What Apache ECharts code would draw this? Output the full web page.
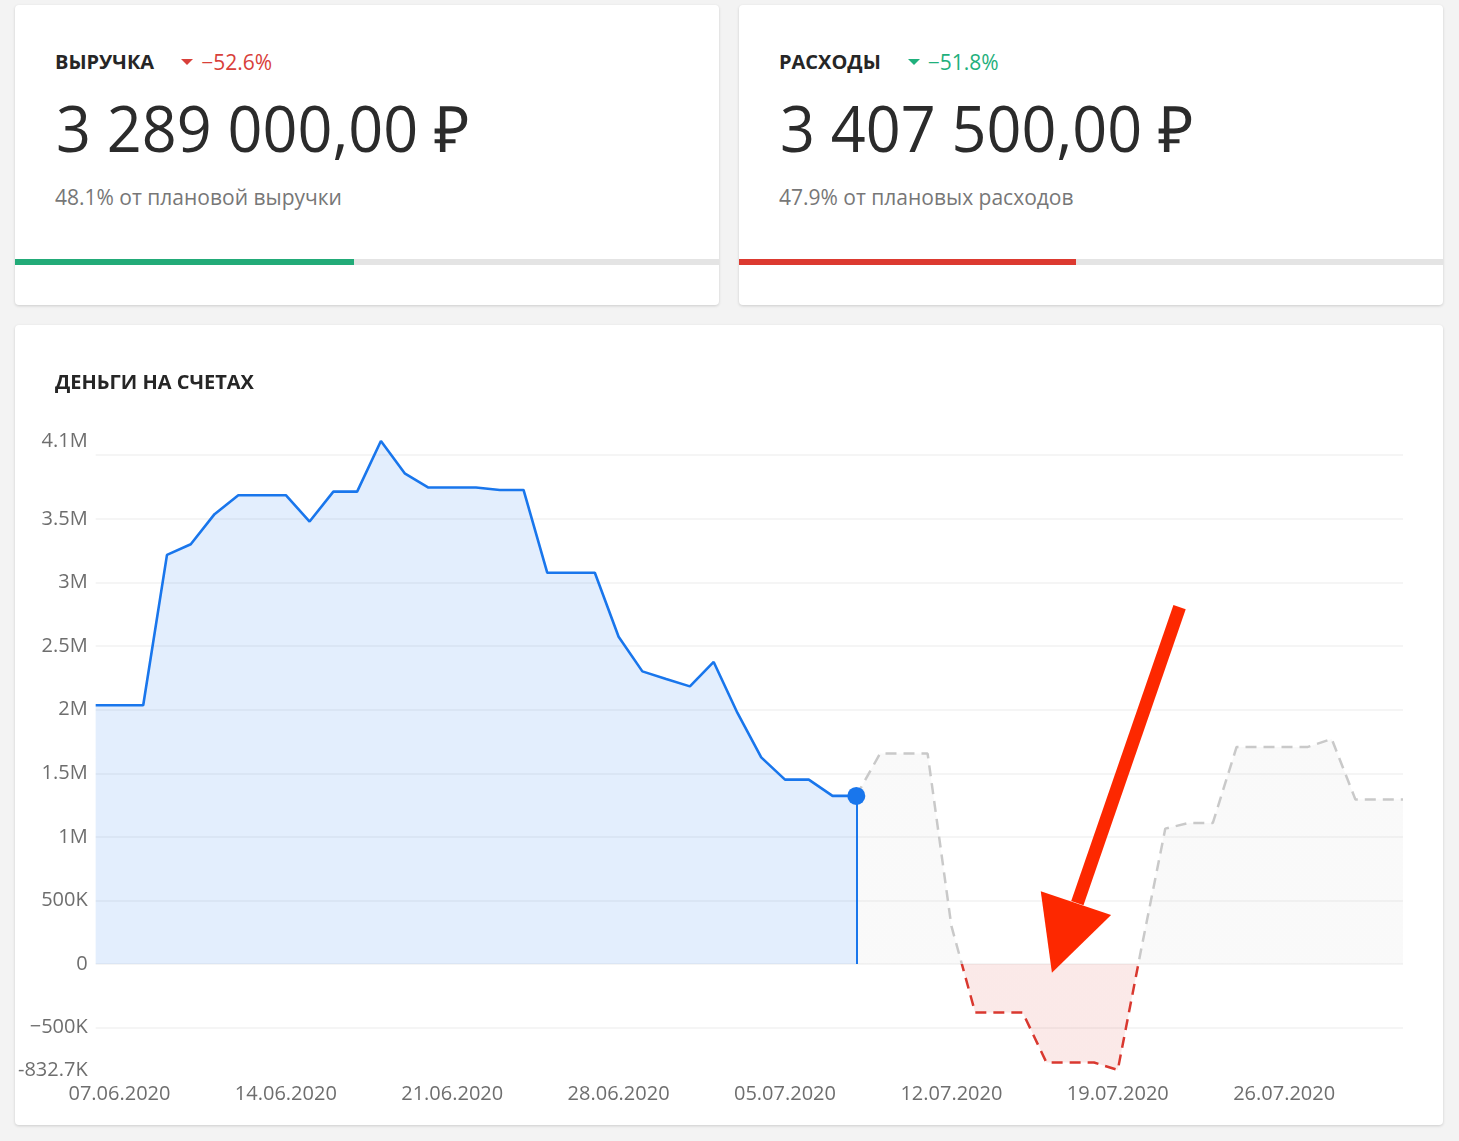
<!DOCTYPE html>
<html>
<head>
<meta charset="utf-8">
<script src="https://cdn.jsdelivr.net/npm/echarts@6/dist/echarts.min.js"></script>
<style>
  html, body { margin: 0; padding: 0; background: #f3f3f3; width: 1459px; height: 1141px; overflow: hidden; font-family: 'Open Sans', sans-serif; }
  .card { position: absolute; background: #fff; border-radius: 4px; box-shadow: 0 1px 3px rgba(0,0,0,0.16); overflow: hidden; }
  .hdr { position: absolute; left: 40px; top: 46px; height: 22px; display: flex; align-items: center; white-space: nowrap; }
  .lbl { font-weight: 700; font-size: 20px; color: #262626; line-height: 22px; }
  .tri { width: 0; height: 0; border-left: 6.5px solid transparent; border-right: 6.5px solid transparent; margin-left: 27px; margin-right: 8px; }
  .chg { font-size: 21px; line-height: 22px; }
  .big { position: absolute; left: 41px; top: 84px; font-size: 64px; line-height: 78px; color: #2b2b2b; white-space: nowrap; transform: scaleX(0.955); transform-origin: left center; }
  .sub { position: absolute; left: 40px; top: 178px; font-size: 21px; line-height: 28px; color: #777; white-space: nowrap; }
  .bar { position: absolute; left: 0; right: 0; top: 254px; height: 6px; background: #e4e4e4; }
  .bar div { height: 100%; }
  #chartCard { left: 15px; top: 325px; width: 1428px; height: 800px; }
  #chart { position: absolute; left: 0; top: 0; width: 1428px; height: 800px; }
</style>
</head>
<body>
<div id="cards"></div>
<div class="card" id="chartCard"><div id="chart"></div></div>
<script>
// ---- KPI cards data ----
const cardTitles = ['ВЫРУЧКА', 'РАСХОДЫ'];
const cardChanges = ['−52.6%', '−51.8%'];
const cardValues = ['3 289 000,00 ₽', '3 407 500,00 ₽'];
const cardPlanPct = [48.1, 47.9];
const cardNotes = ['48.1% от плановой выручки', '47.9% от плановых расходов'];
const cardChangeColors = ['#d8403a', '#1fb07c'];
const cardBarColors = ['#22ab78', '#dc3a30'];
const cardLefts = [15, 739];

// ---- chart data ----
const chartTitle = 'ДЕНЬГИ НА СЧЕТАХ';
const dates = [
  '06.06.2020','07.06.2020','08.06.2020','09.06.2020','10.06.2020','11.06.2020','12.06.2020',
  '13.06.2020','14.06.2020','15.06.2020','16.06.2020','17.06.2020','18.06.2020','19.06.2020',
  '20.06.2020','21.06.2020','22.06.2020','23.06.2020','24.06.2020','25.06.2020','26.06.2020',
  '27.06.2020','28.06.2020','29.06.2020','30.06.2020','01.07.2020','02.07.2020','03.07.2020',
  '04.07.2020','05.07.2020','06.07.2020','07.07.2020','08.07.2020','09.07.2020','10.07.2020',
  '11.07.2020','12.07.2020','13.07.2020','14.07.2020','15.07.2020','16.07.2020','17.07.2020',
  '18.07.2020','19.07.2020','20.07.2020','21.07.2020','22.07.2020','23.07.2020','24.07.2020',
  '25.07.2020','26.07.2020','27.07.2020','28.07.2020','29.07.2020','30.07.2020','31.07.2020'
];
// actual balance 06.06 – 08.07
const actual = [
  2035000, 2035000, 2035000, 3217000, 3300000, 3537000, 3686000, 3686000, 3686000, 3479000,
  3714000, 3714000, 4112000, 3858000, 3746000, 3746000, 3746000, 3727000, 3727000, 3076000,
  3076000, 3076000, 2573000, 2301000, 2241000, 2183000, 2375000, 1974000, 1625000, 1450000,
  1450000, 1322000, 1322000
];
// forecast balance 08.07 – 31.07
const forecast = [
  1322000, 1655000, 1655000, 1655000, 300000, -380000, -380000, -380000, -774000, -774000,
  -774000, -832700, 130000, 1065000, 1110000, 1110000, 1707000, 1707000, 1707000, 1707000,
  1770000, 1293000, 1293000, 1293000
];

// ---- build cards ----
const cardsEl = document.getElementById('cards');
cardTitles.forEach((t, i) => {
  const c = document.createElement('div');
  c.className = 'card';
  c.style.left = cardLefts[i] + 'px';
  c.style.top = '5px';
  c.style.width = '704px';
  c.style.height = '300px';
  c.innerHTML =
    '<div class="hdr"><span class="lbl">' + t + '</span>' +
    '<span class="tri" style="border-top:6.5px solid ' + cardChangeColors[i] + '"></span>' +
    '<span class="chg" style="color:' + cardChangeColors[i] + '">' + cardChanges[i] + '</span></div>' +
    '<div class="big">' + cardValues[i] + '</div>' +
    '<div class="sub">' + cardNotes[i] + '</div>' +
    '<div class="bar"><div style="width:' + cardPlanPct[i] + '%;background:' + cardBarColors[i] + '"></div></div>';
  cardsEl.appendChild(c);
});

// ---- chart ----
const allVals = actual.concat(forecast);
const yMin = Math.min.apply(null, allVals);
const yMax = Math.max.apply(null, allVals);
const step = 500000;
const lastIdx = actual.length - 1;
const forecastData = new Array(lastIdx).fill(null).concat(forecast);

function short(v) {
  const a = Math.abs(v);
  if (a >= 1e6) return (Math.round(a / 1e5) / 10) + 'M';
  if (a >= 1e3) return (Math.round(a / 1e2) / 10) + 'K';
  return String(a);
}
function yFmt(v) {
  const isExtent = (v === yMin || v === yMax);
  if (!isExtent && (Math.abs(v - yMax) < step * 0.3 || Math.abs(v - yMin) < step * 0.3)) return '';
  if (v === 0) return '0';
  const sign = v < 0 ? (isExtent ? '-' : '\u2212') : '';
  return sign + short(v);
}

const chart = echarts.init(document.getElementById('chart'), null, { renderer: 'canvas' });
const blue = '#1976ec';
chart.setOption({
  animation: false,
  title: {
    text: chartTitle, left: 35, top: 43,
    textStyle: { fontFamily: 'Open Sans', fontWeight: 'bold', fontSize: 20, color: '#262626' }
  },
  grid: { left: 80, right: 40, top: 116, bottom: 55 },
  xAxis: {
    type: 'category', data: dates, boundaryGap: false,
    axisLine: { show: false, onZero: false }, axisTick: { show: false },
    axisLabel: {
      interval: (i) => i % 7 === 1, margin: 14,
      fontFamily: 'Open Sans', fontSize: 20, color: '#6e6e6e'
    },
    splitLine: { show: false }
  },
  yAxis: {
    type: 'value', min: yMin, max: yMax, splitNumber: 10,
    minInterval: step, maxInterval: step,
    axisLine: { show: false }, axisTick: { show: false },
    axisLabel: { formatter: yFmt, margin: 8, fontFamily: 'Open Sans', fontSize: 20, color: '#6e6e6e' },
    splitLine: { show: true, showMinLine: false, showMaxLine: false, lineStyle: { color: '#f5f5f5', width: 2 } }
  },
  visualMap: {
    show: false, seriesIndex: 1, dimension: 1,
    pieces: [{ gte: -1e9, lt: 0, color: '#d9382f' }, { gte: 0, lte: 1e9, color: '#c9c9c9' }]
  },
  series: [
    {
      name: 'Факт', type: 'line', data: actual, symbol: 'none', z: 3,
      lineStyle: { color: blue, width: 2.6 },
      areaStyle: { color: blue, opacity: 0.12 },
      markLine: {
        silent: true, symbol: 'none', animation: false,
        label: { show: false },
        lineStyle: { color: blue, width: 2, type: 'solid' },
        data: [[{ coord: [dates[lastIdx], 0] }, { coord: [dates[lastIdx], actual[lastIdx]] }]]
      }
    },
    {
      name: 'Прогноз', type: 'line', data: forecastData, symbol: 'none', z: 2,
      lineStyle: { width: 2.5, type: [11, 7] },
      areaStyle: { opacity: 0.11 }
    },
    {
      name: 'Сегодня', type: 'scatter', z: 5,
      data: [[dates[lastIdx], actual[lastIdx]]],
      symbol: 'circle', symbolSize: 18, itemStyle: { color: blue, opacity: 1 }
    }
  ]
});

// ---- arrow annotation, anchored to data space ----
const p0 = chart.convertToPixel({ gridIndex: 0 }, [0, 0]);
const p1 = chart.convertToPixel({ gridIndex: 0 }, [dates.length - 1, 1000000]);
function px(idx, valM) {
  return [p0[0] + (p1[0] - p0[0]) * idx / (dates.length - 1), p0[1] + (p1[1] - p0[1]) * valM];
}
const tail = px(45.6, 2.807);
const base = px(41.3, 0.48);
const headL = px(39.76, 0.573);
const headR = px(42.72, 0.385);
const tip = px(40.23, -0.068);
const arrowColor = '#fd2800';
chart.setOption({
  graphic: [
    { type: 'line', z: 100, shape: { x1: tail[0], y1: tail[1], x2: base[0], y2: base[1] },
      style: { stroke: arrowColor, lineWidth: 13, lineCap: 'butt' } },
    { type: 'polygon', z: 100, shape: { points: [headL, headR, tip] }, style: { fill: arrowColor } }
  ]
});
</script>
</body>
</html>
